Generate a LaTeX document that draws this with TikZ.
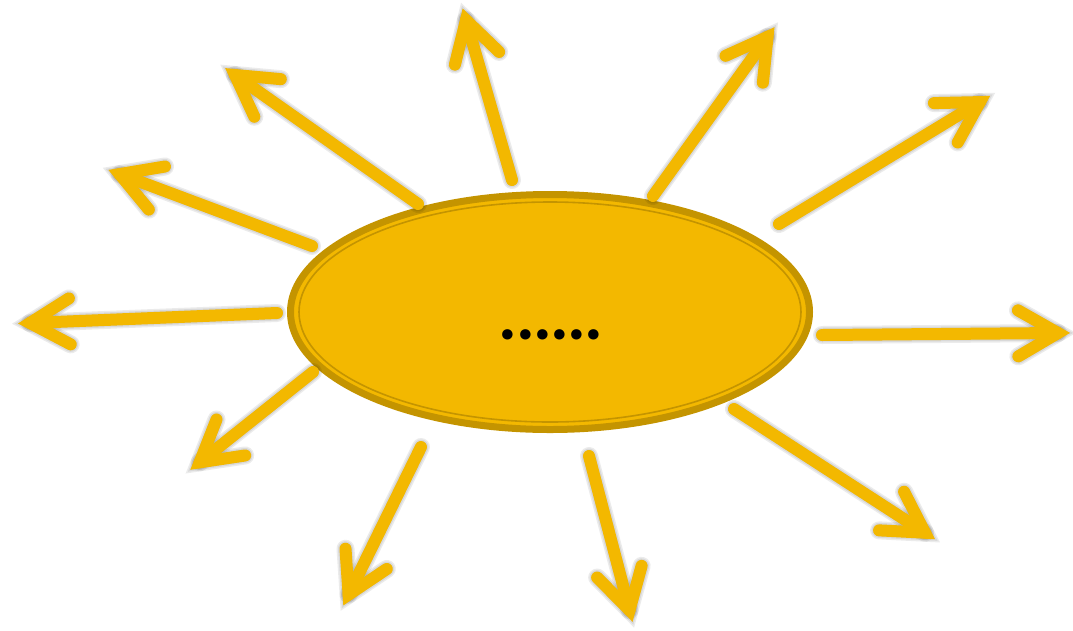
\documentclass[tikz,border=0pt]{standalone}
\usepackage{fontspec}
\setmainfont{Carlito}
\usetikzlibrary{calc}
\definecolor{sun}{HTML}{F3B800}
\definecolor{rim}{HTML}{C49400}
\tikzset{
  rayline/.style={draw=sun,line width=12pt,line cap=round,line join=miter,miter limit=4},
  rayshadow/.style={draw=black,line cap=round,line join=miter,miter limit=4,opacity=0.08},
}
\newcommand\sunrayshadow[2]{%
  \foreach \w in {18,15,12}{%
    \draw[rayshadow,line width=\w pt,shift={(6,7)}] (#1) -- (#2);
    \draw[rayshadow,line width=\w pt,shift={(6,7)}] ($(#2)!46pt!30:(#1)$) -- (#2) -- ($(#2)!46pt!-30:(#1)$);
  }%
}
\newcommand\sunray[2]{%
  \draw[rayline] (#1) -- (#2);
  \draw[rayline] ($(#2)!46pt!30:(#1)$) -- (#2) -- ($(#2)!46pt!-30:(#1)$);
}
\newcommand\dk{\kern-1.6pt}
\begin{document}
\begin{tikzpicture}[x=1pt,y=-1pt]
\useasboundingbox (0,0) rectangle (1073,630);
% ray coordinates
\coordinate (s1) at (512,180);  \coordinate (t1) at (466,20);
\coordinate (s2) at (418,204);  \coordinate (t2) at (235,75);
\coordinate (s3) at (312,246);  \coordinate (t3) at (119.6,174.1);
\coordinate (s4) at (277,313);  \coordinate (t4) at (30,323);
\coordinate (s5) at (313,372);  \coordinate (t5) at (199.7,462.3);
\coordinate (s6) at (421,447);  \coordinate (t6) at (348.6,594.6);
\coordinate (s7) at (589,456);  \coordinate (t7) at (629.5,610.2);
\coordinate (s8) at (734,409);  \coordinate (t8) at (925,532.7);
\coordinate (s9) at (822,335);  \coordinate (t9) at (1058,333);
\coordinate (s10) at (779,224); \coordinate (t10) at (979.9,102.1);
\coordinate (s11) at (653,196); \coordinate (t11) at (767.5,36.9);
% ellipse
\filldraw[fill=sun,draw=rim,line width=7pt] (550,312) ellipse [x radius=259.5, y radius=117.5];
\draw[rim,line width=1.6pt] (550,312) ellipse [x radius=251, y radius=110];
\node[font=\bfseries\fontsize{70}{70}\selectfont,anchor=base,inner sep=0pt,text=black] (dots) at (551,339) {.\dk.\dk.\dk.\dk.\dk.};
% shadows
\foreach \i in {1,...,11}{\sunrayshadow{s\i}{t\i}}
% rays
\foreach \i in {1,...,11}{\sunray{s\i}{t\i}}
\end{tikzpicture}
\end{document}
